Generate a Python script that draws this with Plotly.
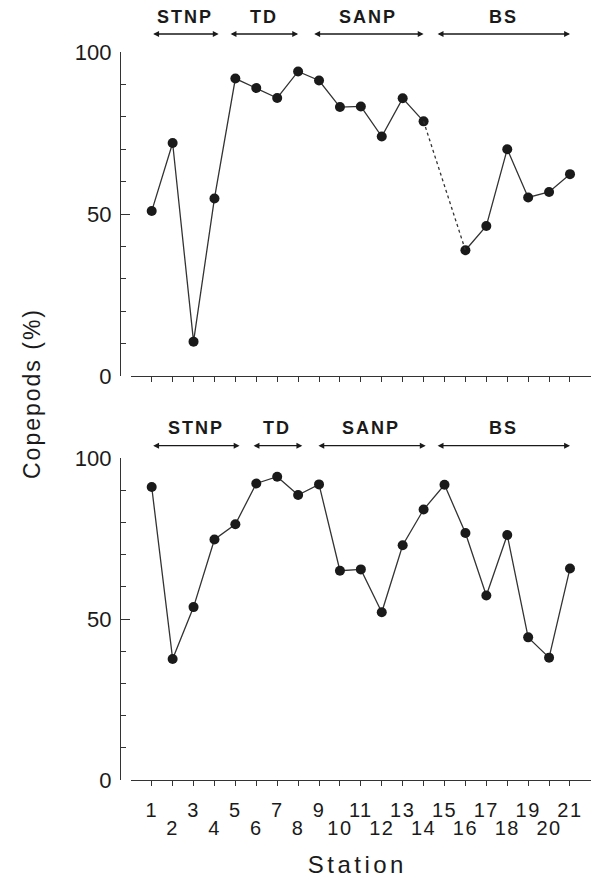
import plotly.graph_objects as go

# ---- data ----
stations = list(range(1, 22))
top_pct = [50.9, 71.9, 10.6, 54.8, 91.8, 88.9, 85.8, 94.0, 91.2, 83.0, 83.2,
           73.9, 85.7, 78.6, None, 38.8, 46.3, 70.0, 55.1, 56.8, 62.3]
bottom_pct = [91.0, 37.6, 53.7, 74.7, 79.4, 92.1, 94.2, 88.5, 91.8, 65.0, 65.4,
              52.1, 72.9, 84.0, 91.7, 76.7, 57.3, 76.1, 44.3, 38.0, 65.7]
gap_from, gap_to = 14, 16  # dotted link across missing station 15 (top panel)

regions = ["STNP", "TD", "SANP", "BS"]
top_region_start = [1.0, 4.7, 8.7, 14.6]
top_region_end = [4.2, 8.0, 14.0, 21.0]
bottom_region_start = [1.0, 5.8, 8.9, 14.6]
bottom_region_end = [5.2, 8.2, 14.1, 21.0]
y_ticks = [0, 50, 100]

# ---- geometry (pixels) ----
W, H = 594, 878
def px_x(p):
    return p / W
def px_y(p):
    return (H - p) / H

FONT = "Liberation Sans, Arial, Helvetica, sans-serif"
INK = "#1a1a1a"
LINE = "#333333"

fig = go.Figure()

# top panel
fig.add_trace(go.Scatter(x=stations, y=top_pct, mode="lines+markers",
                         line=dict(color=LINE, width=1.3),
                         marker=dict(color=INK, size=10),
                         connectgaps=False, xaxis="x", yaxis="y",
                         showlegend=False, hoverinfo="x+y"))
fig.add_trace(go.Scatter(x=[gap_from, gap_to],
                         y=[top_pct[stations.index(gap_from)], top_pct[stations.index(gap_to)]],
                         mode="lines", line=dict(color=LINE, width=1.3, dash="dot"),
                         xaxis="x", yaxis="y", showlegend=False, hoverinfo="skip"))
# bottom panel
fig.add_trace(go.Scatter(x=stations, y=bottom_pct, mode="lines+markers",
                         line=dict(color=LINE, width=1.3),
                         marker=dict(color=INK, size=10),
                         xaxis="x2", yaxis="y2", showlegend=False, hoverinfo="x+y"))
# carrier for the second row of station labels
even_st = [s for s in stations if s % 2 == 0]
fig.add_trace(go.Scatter(x=even_st, y=[None] * len(even_st),
                         mode="markers", xaxis="x3", yaxis="y2",
                         showlegend=False, hoverinfo="skip"))

xdom = [px_x(130.8), px_x(590.9)]
xrange_ = [0, 22]
yaxis_common = dict(range=[0, 100], tickvals=y_ticks, ticks="inside", ticklen=9,
                    tickwidth=1.3, tickcolor=LINE, showline=True, linecolor=LINE,
                    linewidth=1.3, showgrid=False, zeroline=False, automargin=False,
                    tickfont=dict(family=FONT, size=22, color=INK),
                    minor=dict(dtick=10, ticks="inside", ticklen=5, tickwidth=1.2,
                               tickcolor=LINE, showgrid=False),
                    anchor="free", position=px_x(120), ticklabelstandoff=4)
xaxis_common = dict(range=xrange_, domain=xdom, tickvals=stations, ticks="outside",
                    ticklen=5, tickwidth=1.2, tickcolor=LINE, showline=True,
                    linecolor=LINE, linewidth=1.3, showgrid=False, zeroline=False,
                    automargin=False,
                    tickfont=dict(family=FONT, size=20, color=INK))

annotations = []
def add_regions(starts, ends, y_arrow, y_label):
    for name, s, e in zip(regions, starts, ends):
        annotations.append(dict(x=e, ax=s, xref="x", axref="x", y=px_y(y_arrow),
                                yref="paper", ay=0, ayref="pixel", text="",
                                showarrow=True, arrowside="end+start", arrowhead=2,
                                arrowsize=0.9, arrowwidth=1.3, arrowcolor=INK))
        annotations.append(dict(x=(s + e) / 2, xref="x", y=px_y(y_label), yref="paper",
                                text="<b>%s</b>" % name, showarrow=False,
                                yanchor="middle", xanchor="center",
                                font=dict(family=FONT, size=18, color=INK)))

add_regions(top_region_start, top_region_end, 34, 17)
add_regions(bottom_region_start, bottom_region_end, 445.7, 428)

annotations.append(dict(x=px_x(32), y=px_y(394), xref="paper", yref="paper",
                        xanchor="center", yanchor="middle",
                        text="Copepods (%)", textangle=-90, showarrow=False,
                        font=dict(family=FONT, size=23, color=INK)))
annotations.append(dict(x=px_x(357), y=px_y(864), xref="paper", yref="paper",
                        xanchor="center", yanchor="middle",
                        text="Station", showarrow=False,
                        font=dict(family=FONT, size=24, color=INK)))

fig.update_layout(
    width=W, height=H, margin=dict(l=0, r=0, t=0, b=0, autoexpand=False),
    paper_bgcolor="white", plot_bgcolor="white",
    xaxis=dict(anchor="y", showticklabels=False, **xaxis_common),
    yaxis=dict(domain=[px_y(376), px_y(52)], **yaxis_common),
    xaxis2=dict(anchor="y2", ticktext=[str(s) if s % 2 else "" for s in stations],
                ticklabelstandoff=7, **xaxis_common),
    yaxis2=dict(domain=[px_y(780), px_y(458)], **yaxis_common),
    xaxis3=dict(overlaying="x2", anchor="y2", side="bottom", range=xrange_,
                tickvals=even_st, ticktext=[str(s) for s in even_st],
                ticks="", showline=False, showgrid=False, zeroline=False,
                ticklabelstandoff=34, automargin=False,
                tickfont=dict(family=FONT, size=20, color=INK)),
    annotations=annotations,
)

post = """
document.body.style.margin = '0';
var gd = document.getElementById('{plot_id}');
gd.querySelectorAll('.annotation-text').forEach(function(t){
  var s = t.textContent;
  if (s === 'Station') { t.style.letterSpacing = '3.5px'; }
  else { t.style.letterSpacing = '2px'; }
});
gd.querySelectorAll('.x2tick text, .x3tick text').forEach(function(t){
  t.style.letterSpacing = '1.5px';
});
"""

fig.write_html("out.html", post_script=post, config={"displayModeBar": False})
